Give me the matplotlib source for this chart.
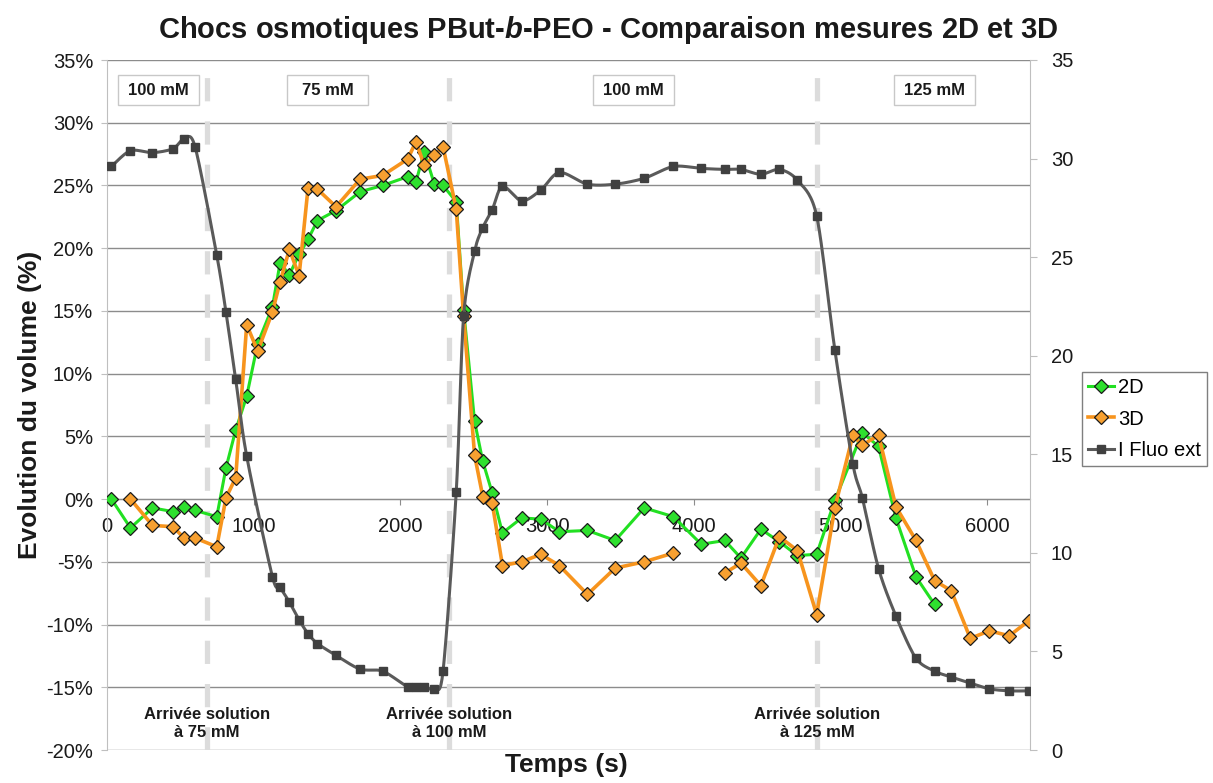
import numpy as np
import matplotlib
matplotlib.use("Agg")
import matplotlib.pyplot as plt
from matplotlib.patches import Rectangle
import matplotlib.transforms as mtransforms

plt.rcParams['font.family'] = ['Liberation Sans', 'DejaVu Sans']
plt.rcParams['mathtext.fontset'] = 'custom'
plt.rcParams['mathtext.rm'] = 'Liberation Sans:bold'
plt.rcParams['mathtext.bf'] = 'Liberation Sans:bold'
plt.rcParams['mathtext.it'] = 'Liberation Sans:italic:bold'
plt.rcParams['mathtext.bfit'] = 'Liberation Sans:italic:bold'

# Volume change measured in 2D (%)
t_2d = [30, 160, 310, 450, 525, 600, 748, 811, 877, 952, 1027, 1127, 1179, 1243,
        1309, 1370, 1434, 1561, 1725, 1879, 2049, 2106, 2162, 2231, 2290, 2380,
        2430, 2505, 2561, 2625, 2695, 2826, 2956, 3083, 3274, 3463, 3661, 3860,
        4050, 4210, 4320, 4456, 4582, 4705, 4836, 4960, 5147, 5258, 5376, 5513, 5640]
v_2d = [0.0, -2.3, -0.7, -1.0, -0.6, -0.9, -1.4, 2.5, 5.5, 8.2, 12.4, 15.3, 18.8, 17.9,
        19.5, 20.7, 22.2, 23.0, 24.5, 25.0, 25.7, 25.3, 27.7, 25.1, 25.0, 23.7,
        15.1, 6.2, 3.0, 0.5, -2.7, -1.5, -1.6, -2.6, -2.5, -3.3, -0.7, -1.4,
        -3.6, -3.3, -4.7, -2.4, -3.4, -4.5, -4.4, -0.1, 5.3, 4.2, -1.5, -6.2, -8.4]

# Volume change measured in 3D (%), no measurement around 4050 s
t_3d = [160, 310, 450, 525, 600, 748, 811, 877, 952, 1027, 1127, 1179, 1243, 1309,
        1370, 1434, 1561, 1725, 1879, 2049, 2106, 2162, 2231, 2290, 2380, 2430,
        2505, 2561, 2625, 2695, 2826, 2956, 3083, 3274, 3463, 3661, 3860, 4050,
        4210, 4320, 4456, 4582, 4705, 4836, 4960, 5083, 5147, 5258, 5376, 5513,
        5640, 5753, 5883, 6014, 6149, 6281]
v_3d = [0.0, -2.1, -2.2, -3.1, -3.1, -3.8, 0.1, 1.7, 13.9, 11.8, 14.9, 17.3, 19.9, 17.8,
        24.8, 24.7, 23.3, 25.5, 25.8, 27.1, 28.5, 26.6, 27.4, 28.1, 23.1, 14.6,
        3.5, 0.2, -0.3, -5.3, -5.0, -4.4, -5.3, -7.6, -5.5, -5.0, -4.3, np.nan,
        -5.9, -5.1, -6.9, -3.0, -4.1, -9.2, -0.7, 5.1, 4.3, 5.1, -0.6, -3.3,
        -6.5, -7.3, -11.1, -10.5, -10.9, -9.7]

# External fluorescence intensity (secondary axis)
t_fluo = [30, 160, 310, 450, 525, 600, 748, 811, 877, 952, 1127, 1179, 1243, 1309,
          1370, 1434, 1561, 1725, 1879, 2049, 2106, 2162, 2231, 2290, 2380, 2430,
          2505, 2561, 2625, 2695, 2826, 2956, 3083, 3274, 3463, 3661, 3860, 4050,
          4210, 4320, 4456, 4582, 4705, 4836, 4960, 5083, 5147, 5258, 5376, 5513,
          5640, 5753, 5883, 6014, 6149, 6281]
i_fluo = [29.6, 30.4, 30.3, 30.5, 31.0, 30.6, 25.1, 22.2, 18.8, 14.9, 8.8, 8.25, 7.5, 6.6,
          5.9, 5.4, 4.8, 4.1, 4.0, 3.2, 3.2, 3.2, 3.1, 4.0, 13.1, 22.0,
          25.3, 26.5, 27.4, 28.6, 27.85, 28.4, 29.3, 28.7, 28.7, 29.0, 29.6, 29.5,
          29.45, 29.45, 29.2, 29.45, 28.9, 27.1, 20.3, 14.5, 12.8, 9.2, 6.8, 4.65,
          4.0, 3.7, 3.4, 3.1, 3.0, 3.0]

switch_times = [682, 2331, 4840]
switch_labels = ["Arrivée solution\nà 75 mM", "Arrivée solution\nà 100 mM",
                 "Arrivée solution\nà 125 mM"]
phase_centers = [348, 1503, 3586, 5637]
phase_labels = ["100 mM", "75 mM", "100 mM", "125 mM"]

W, H = 1213, 783
X_MAX = 6290
fig = plt.figure(figsize=(W / 100, H / 100), dpi=100)
fig.patch.set_facecolor('white')
ax_l, ax_r, ax_t, ax_b = 107, 1030, 60, 750
ax = fig.add_axes([ax_l / W, 1 - ax_b / H, (ax_r - ax_l) / W, (ax_b - ax_t) / H])
ax.set_xlim(0, X_MAX)
ax.set_ylim(-20, 35)

GRID = '#8c8c8c'
SPINE = '#bfbfbf'
TXT = '#1a1a1a'

ax.set_yticks(np.arange(-20, 36, 5))
ax.set_yticklabels([f"{v}%" for v in range(-20, 36, 5)])
ax.set_xticks(np.arange(0, 6001, 1000))
ax.grid(axis='y', color=GRID, lw=1.0)
ax.grid(axis='x', visible=False)
ax.set_axisbelow(True)
ax.tick_params(axis='y', labelsize=14.5, colors=SPINE, labelcolor=TXT, length=4, pad=6)
ax.tick_params(axis='x', labelsize=14.5, colors=GRID, labelcolor=TXT, length=4, pad=9,
               direction='out')
ax.spines['bottom'].set_position(('data', 0))
ax.spines['bottom'].set_color(GRID)
ax.spines['top'].set_visible(False)
ax.spines['right'].set_visible(False)
ax.spines['left'].set_color(SPINE)

ax2 = ax.twinx()
ax2.set_ylim(0, 35)
ax2.set_yticks(np.arange(0, 36, 5))
ax2.tick_params(axis='y', labelsize=14.5, colors=SPINE, labelcolor=TXT, length=5, pad=10)
for s in ['left', 'top', 'bottom']:
    ax2.spines[s].set_visible(False)
ax2.spines['right'].set_color(SPINE)

# Solution change markers
for t in switch_times:
    ax.axvline(t, color='#dcdcdc', lw=3.8, ls=(0, (4.4, 3.8)), zorder=0.8)

# Concentration phase boxes
trans = mtransforms.blended_transform_factory(ax.transData, ax.transAxes)
box_w = 552
for c, lab in zip(phase_centers, phase_labels):
    ax.add_patch(Rectangle((c - box_w / 2, 0.935), box_w, 0.0435, transform=trans,
                           fc='white', ec='#c8c8c8', lw=1.0, zorder=3))
    ax.text(c, 0.9565, lab, transform=trans, ha='center', va='center',
            fontsize=12, fontweight='bold', color=TXT, zorder=4)

for t, lab in zip(switch_times, switch_labels):
    ax.text(t, 0.039, lab, transform=trans, ha='center', va='center',
            fontsize=12, fontweight='bold', color=TXT, linespacing=1.25, zorder=4)

# Volume series
GREEN = '#22e022'
ORANGE = '#f7941d'
l2d, = ax.plot(t_2d, v_2d, color=GREEN, lw=2.2, marker='D', ms=6.8,
               mfc='#2ee02e', mec='#1a1a1a', mew=0.9, zorder=5, label='2D')
l3d, = ax.plot(t_3d, v_3d, color=ORANGE, lw=2.6, marker='D', ms=6.8,
               mfc='#f7a030', mec='#1a1a1a', mew=0.9, zorder=6, label='3D')


def smooth_curve(x, y, sx, sy, n=20, k=7.0):
    """Bezier smoothing through the points, computed in display-like units."""
    P = np.column_stack([np.asarray(x, float) * sx, np.asarray(y, float) * sy])
    out = [P[0]]
    m = len(P)
    tt = np.linspace(0, 1, n)[1:, None]
    for i in range(m - 1):
        p0 = P[i - 1] if i > 0 else P[i]
        p1, p2 = P[i], P[i + 1]
        p3 = P[i + 2] if i + 2 < m else P[i + 1]
        c1 = p1 + (p2 - p0) / k
        c2 = p2 - (p3 - p1) / k
        seg = ((1 - tt) ** 3) * p1 + 3 * ((1 - tt) ** 2) * tt * c1 + \
            3 * (1 - tt) * tt ** 2 * c2 + tt ** 3 * p2
        out.extend(seg)
    out = np.array(out)
    return out[:, 0] / sx, out[:, 1] / sy


sx = (ax_r - ax_l) / X_MAX
sy = (ax_b - ax_t) / 35.0
fx, fy = smooth_curve(t_fluo, i_fluo, sx, sy)
ax2.plot(fx, fy, color='#5a5a5a', lw=2.2, zorder=5, solid_capstyle='round')
ax2.plot(t_fluo, i_fluo, ls='none', marker='s', ms=5.5, mfc='#404040',
         mec='#404040', zorder=6)
leg_fluo = plt.Line2D([], [], color='#5a5a5a', lw=2.2, marker='s', ms=5.5,
                      mfc='#404040', mec='#404040')

fig.legend([l2d, l3d, leg_fluo], ['2D', '3D', 'I Fluo ext'], loc='upper left',
           bbox_to_anchor=(1082 / W, 1 - 372 / H), frameon=True, fancybox=False,
           edgecolor='#7f7f7f', fontsize=14.5, handlelength=1.3, handletextpad=0.2,
           borderpad=0.3, labelspacing=0.62, borderaxespad=0, framealpha=1)

fig.text(608 / W, 1 - 30 / H,
         r"Chocs osmotiques PBut-$\mathbfit{b}$-PEO - Comparaison mesures 2D et 3D",
         ha='center', va='center', fontsize=21, fontweight='bold', color=TXT)
fig.text(30 / W, 1 - 405 / H, "Evolution du volume (%)", rotation=90, ha='center',
         va='center', fontsize=19, fontweight='bold', color=TXT)
fig.text(566 / W, 1 - 765 / H, "Temps (s)", ha='center', va='center',
         fontsize=19, fontweight='bold', color=TXT)

fig.savefig('out.png', dpi=100, facecolor='white')
